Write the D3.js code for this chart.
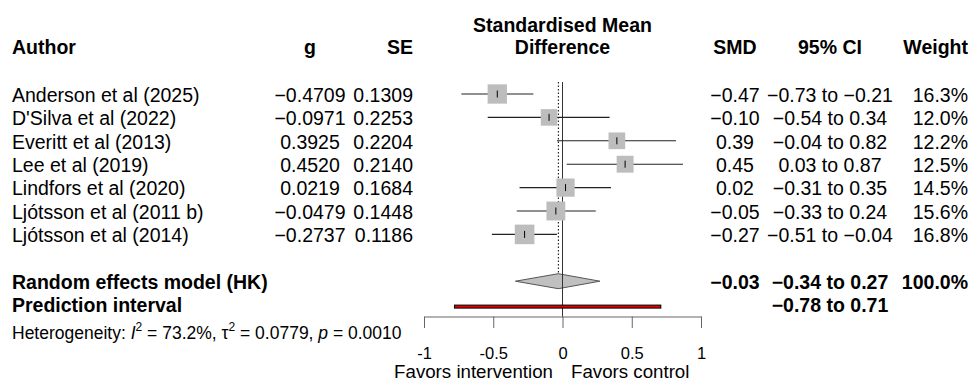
<!DOCTYPE html>
<html>
<head>
<meta charset="utf-8">
<script src="https://cdn.jsdelivr.net/npm/d3@7"></script>
<style>
  body { margin: 0; background: #fff; }
  svg text { font-family: "Liberation Sans", Arial, sans-serif; fill: #000; }
</style>
</head>
<body>
<svg id="forest" width="970" height="385"></svg>
<script>
// study data
const authors = [
  'Anderson et al (2025)', "D'Silva et al (2022)", 'Everitt et al (2013)',
  'Lee et al (2019)', 'Lindfors et al (2020)', 'Ljótsson et al (2011 b)',
  'Ljótsson et al (2014)'
];
const g = [-0.4709, -0.0971, 0.3925, 0.4520, 0.0219, -0.0479, -0.2737];
const se = [0.1309, 0.2253, 0.2204, 0.2140, 0.1684, 0.1448, 0.1186];
const smd = [-0.47, -0.10, 0.39, 0.45, 0.02, -0.05, -0.27];
const ciLow = [-0.73, -0.54, -0.04, 0.03, -0.31, -0.33, -0.51];
const ciHigh = [-0.21, 0.34, 0.82, 0.87, 0.35, 0.24, -0.04];
const weight = [16.3, 12.0, 12.2, 12.5, 14.5, 15.6, 16.8];

// pooled estimate [lower, estimate, upper, weight] and prediction interval
const pooled = [-0.34, -0.03, 0.27, 100.0];
const predInterval = [-0.78, 0.71];
const heterogeneity = [73.2, 0.0779, 0.0010]; // I2, tau2, p

const xTicks = [-1, -0.5, 0, 0.5, 1];

const svg = d3.select('#forest');
const fs = 19.5;

const x = d3.scaleLinear().domain([-1, 1]).range([424, 701]);
const rowY = i => 94 + i * 23.4;
const sq = d3.scaleSqrt().domain([0, d3.max(weight)]).range([0, 19.6]);

const minus = s => s.replace(/-/g, '\u2212');
const fmt = (v, d) => minus(v.toFixed(d));
const ciText = (lo, hi) => fmt(lo, 2) + ' to ' + fmt(hi, 2);

function text(xp, yp, str, anchor, bold, size) {
  return svg.append('text')
    .attr('x', xp).attr('y', yp)
    .attr('text-anchor', anchor || 'start')
    .attr('font-weight', bold ? 'bold' : 'normal')
    .attr('font-size', size || fs)
    .text(str);
}

// column positions
const colAuthor = 12, colG = 310, colSE = 413, colSMD = 735, colCI = 830, colW = 968;

// header
text(colAuthor, 54, 'Author', 'start', true);
text(colG, 54, 'g', 'middle', true);
text(colSE, 54, 'SE', 'end', true);
text(x(0), 32, 'Standardised Mean', 'middle', true);
text(x(0), 54, 'Difference', 'middle', true);
text(colSMD, 54, 'SMD', 'middle', true);
text(colCI, 54, '95% CI', 'middle', true);
text(colW, 54, 'Weight', 'end', true);

const base = 7.7;

// study rows
authors.forEach((a, i) => {
  const y = rowY(i) + base;
  text(colAuthor, y, a);
  text(colG, y, fmt(g[i], 4), 'middle');
  text(colSE, y, se[i].toFixed(4), 'end');
  text(colSMD, y, fmt(smd[i], 2), 'middle');
  text(colCI, y, ciText(ciLow[i], ciHigh[i]), 'middle');
  text(colW, y, weight[i].toFixed(1) + '%', 'end');
});

// pooled rows
const yRE = rowY(8), yPI = rowY(9);
text(colAuthor, yRE + base, 'Random effects model (HK)', 'start', true);
text(colAuthor, yPI + base, 'Prediction interval', 'start', true);
text(colSMD, yRE + base, fmt(pooled[1], 2), 'middle', true);
text(colCI, yRE + base, ciText(pooled[0], pooled[2]), 'middle', true);
text(colW, yRE + base, pooled[3].toFixed(1) + '%', 'end', true);
text(colCI, yPI + base, ciText(predInterval[0], predInterval[1]), 'middle', true);

// heterogeneity line
const het = svg.append('text').attr('x', colAuthor).attr('y', 339).attr('font-size', 17.5);
het.append('tspan').text('Heterogeneity: ');
het.append('tspan').attr('font-style', 'italic').text('I');
het.append('tspan').attr('font-size', 12).attr('dy', -8).text('2');
het.append('tspan').attr('dy', 8).text(' = ' + heterogeneity[0].toFixed(1) + '%, \u03c4');
het.append('tspan').attr('font-size', 12).attr('dy', -8).text('2');
het.append('tspan').attr('dy', 8).text(' = ' + heterogeneity[1].toFixed(4) + ', ');
het.append('tspan').attr('font-style', 'italic').text('p');
het.append('tspan').text(' = ' + heterogeneity[2].toFixed(4));

// reference lines
const axisY = 316.5;
svg.append('line')
  .attr('x1', x(0)).attr('x2', x(0))
  .attr('y1', 82).attr('y2', axisY)
  .attr('stroke', '#333').attr('stroke-width', 1);
svg.append('line')
  .attr('x1', x(pooled[1])).attr('x2', x(pooled[1]))
  .attr('y1', 82).attr('y2', yRE - 7.5)
  .attr('stroke', '#000').attr('stroke-width', 1)
  .attr('stroke-dasharray', '1.5,2');

// study CIs, squares and point ticks
const studies = svg.append('g');
authors.forEach((a, i) => {
  const y = rowY(i);
  studies.append('line')
    .attr('x1', x(ciLow[i])).attr('x2', x(ciHigh[i]))
    .attr('y1', y).attr('y2', y)
    .attr('stroke', '#222').attr('stroke-width', 1.1);
  const s = sq(weight[i]);
  studies.append('rect')
    .attr('x', x(g[i]) - s / 2).attr('y', y - s / 2)
    .attr('width', s).attr('height', s)
    .attr('fill', '#bdbdbd');
  studies.append('line')
    .attr('x1', x(g[i])).attr('x2', x(g[i]))
    .attr('y1', y - 3.5).attr('y2', y + 3.5)
    .attr('stroke', '#000').attr('stroke-width', 1);
});

// diamond
const dh = 7.5;
svg.append('path')
  .attr('d', `M${x(pooled[0])},${yRE} L${x(pooled[1])},${yRE - dh} L${x(pooled[2])},${yRE} L${x(pooled[1])},${yRE + dh} Z`)
  .attr('fill', '#c0c0c0').attr('stroke', '#555').attr('stroke-width', 1);

// redraw solid zero line over the diamond
svg.append('line')
  .attr('x1', x(0)).attr('x2', x(0))
  .attr('y1', yRE - 8).attr('y2', axisY)
  .attr('stroke', '#333').attr('stroke-width', 1);

// prediction interval bar
svg.append('rect')
  .attr('x', x(predInterval[0])).attr('y', yPI + 0.5)
  .attr('width', x(predInterval[1]) - x(predInterval[0])).attr('height', 3)
  .attr('fill', '#e00000').attr('stroke', '#000').attr('stroke-width', 1);

// x axis
const axis = d3.axisBottom(x)
  .tickValues(xTicks)
  .tickSize(11.5)
  .tickSizeOuter(0)
  .tickPadding(19.5)
  .tickFormat(d => String(d));
const ax = svg.append('g').attr('transform', `translate(0,${axisY})`).call(axis);
ax.select('.domain').attr('stroke', '#666');
ax.selectAll('.tick line').attr('stroke', '#666');
ax.selectAll('.tick text')
  .attr('font-size', 16.5)
  .attr('font-family', '"Liberation Sans", Arial, sans-serif')
  .attr('fill', '#000');

text(553, 378, 'Favors intervention', 'end', false, 18.7);
text(571, 378, 'Favors control', 'start', false, 18.7);
</script>
</body>
</html>
